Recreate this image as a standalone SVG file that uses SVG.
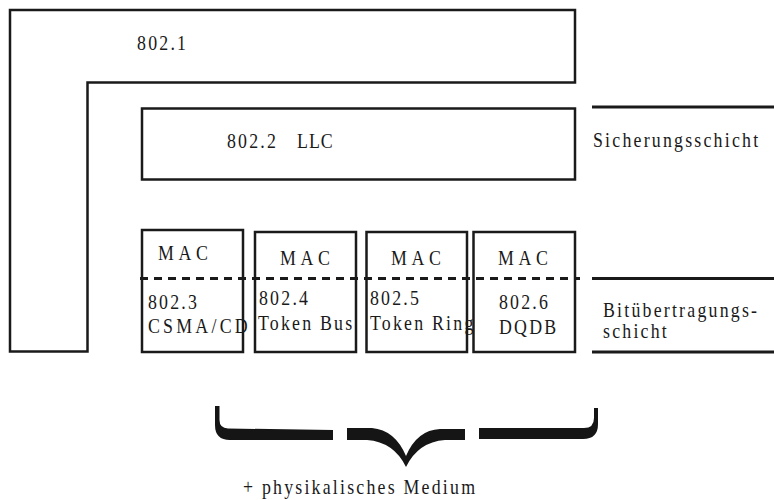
<svg xmlns="http://www.w3.org/2000/svg" width="774" height="500" viewBox="0 0 774 500">
<style>
.box{fill:none;stroke:#1a1a1a;stroke-width:2.5}
.rule{stroke:#1a1a1a;stroke-width:3}
.dash{stroke:#1a1a1a;stroke-width:3;stroke-dasharray:8 6}
text{font-family:"Liberation Serif","Times New Roman",serif;font-size:21px;fill:#1a1a1a;letter-spacing:2.6px;transform-box:fill-box;transform-origin:0 0;transform:scaleX(0.85)}
text.mac{letter-spacing:5.5px}
text.csma{letter-spacing:3.8px}
text.llc{letter-spacing:1.2px}
.brace{fill:#151515}
</style>
<rect width="774" height="500" fill="#fff"/>
<g id="n8021">
<path class="box" d="M10,10 H575 V82.5 H87.5 V351.5 H10 Z"/>
<text x="137" y="50">802.1</text>
</g>
<g id="n8022">
<rect class="box" x="142" y="108.5" width="433" height="71"/>
<text x="227" y="148">802.2</text>
<text class="llc" x="297" y="148">LLC</text>
</g>
<g id="n8023">
<rect class="box" x="142" y="230" width="101" height="122"/>
<text class="mac" x="158" y="260">MAC</text>
<text x="148" y="309">802.3</text>
<text class="csma" x="148" y="333">CSMA/CD</text>
</g>
<g id="n8024">
<rect class="box" x="255" y="232" width="101" height="120"/>
<text class="mac" x="280" y="265">MAC</text>
<text x="259" y="305">802.4</text>
<text x="258" y="330">Token Bus</text>
</g>
<g id="n8025">
<rect class="box" x="366.5" y="232" width="100.5" height="120"/>
<text class="mac" x="391" y="265">MAC</text>
<text x="370" y="305">802.5</text>
<text x="370" y="330">Token Ring</text>
</g>
<g id="n8026">
<rect class="box" x="473.5" y="232" width="101.5" height="120"/>
<text class="mac" x="498" y="265">MAC</text>
<text x="499" y="309">802.6</text>
<text x="499" y="334">DQDB</text>
</g>
<g id="connectors">
<line class="dash" x1="140" y1="278.5" x2="580" y2="278.5"/>
<line class="rule" x1="592" y1="107" x2="774" y2="107"/>
<line class="rule" x1="592" y1="278.5" x2="774" y2="278.5"/>
<line class="rule" x1="592" y1="352" x2="774" y2="352"/>
</g>
<g id="layers">
<text x="593" y="147">Sicherungsschicht</text>
<text x="603" y="317">Bitübertragungs-</text>
<text x="603" y="338.5">schicht</text>
</g>
<g id="brace">
<path class="brace" d="M215,406 L219.5,406 L219.5,420 Q219.5,428 228,428.5 L333,430 L333,440 L230,440 Q215,440 215,425 Z"/>
<path class="brace" d="M347,428 L372,428 Q395,430 406,456 Q417,430 440,429 L465,429 L465,440 L445,440 Q418,442 406,467 Q394,442 367,440 L347,440 Z"/>
<path class="brace" d="M479,428 L584,428 Q594,428 594,418 L594,408 L598,408 L598,424 Q598,439 583,439 L479,439 Z"/>
<text x="243" y="494">+ physikalisches Medium</text>
</g>
</svg>
